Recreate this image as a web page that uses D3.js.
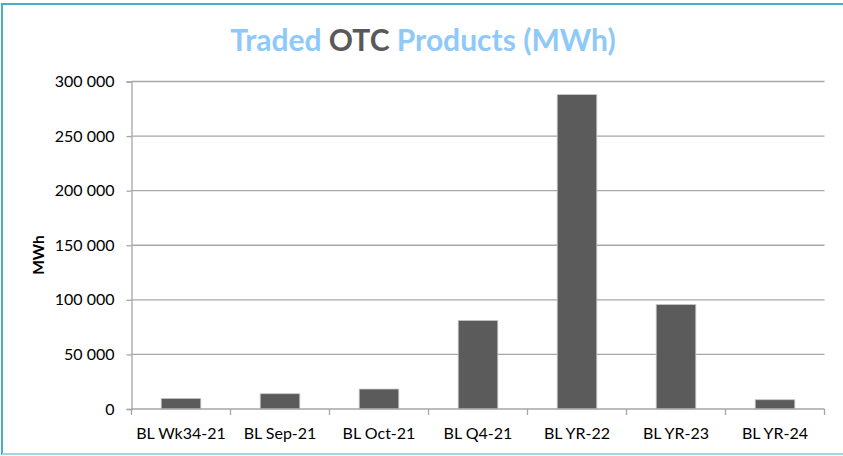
<!DOCTYPE html>
<html>
<head>
<meta charset="utf-8">
<script src="https://cdn.jsdelivr.net/npm/d3@7"></script>
<style>
  body { margin: 0; background: #fff; }
  svg { font-family: Lato, "Open Sans", sans-serif; }
</style>
</head>
<body>
<div id="chart"></div>
<script>
const categories = ['BL Wk34-21', 'BL Sep-21', 'BL Oct-21', 'BL Q4-21', 'BL YR-22', 'BL YR-23', 'BL YR-24']
const volumes = [9700, 14000, 18300, 81100, 288000, 95700, 8500]
const yTicks = [0, 50000, 100000, 150000, 200000, 250000, 300000]

const dimensions = { width: 843, height: 456 }
const margin = { top: 81.5, right: 18.5, bottom: 47, left: 131.5 }
const innerW = dimensions.width - margin.left - margin.right
const innerH = dimensions.height - margin.top - margin.bottom

const svg = d3.select('#chart')
  .append('svg')
  .attr('width', dimensions.width)
  .attr('height', dimensions.height)

// frame
svg.append('rect')
  .attr('x', 2).attr('y', 4)
  .attr('width', 860).attr('height', 450)
  .attr('fill', 'none')
  .attr('stroke', '#4bacc6')
  .attr('stroke-width', 2)
svg.append('line')
  .attr('x1', 2).attr('x2', 843).attr('y1', 454).attr('y2', 454)
  .attr('stroke', '#a5d5e0').attr('stroke-width', 2)

// title
const title = svg.append('text')
  .attr('x', 423).attr('y', 51)
  .attr('text-anchor', 'middle')
  .attr('font-size', 30)
  .attr('font-weight', 'bold')
title.append('tspan').attr('fill', '#8ec9f9').text('Traded ')
title.append('tspan').attr('fill', '#595959').text('OTC')
title.append('tspan').attr('fill', '#8ec9f9').text(' Products (MWh)')

const g = svg.append('g')
  .attr('transform', `translate(${margin.left}, ${margin.top})`)

const x = d3.scaleBand()
  .domain(categories)
  .range([0, innerW])
  .paddingInner(0.6)
  .paddingOuter(0.3)

const y = d3.scaleLinear()
  .domain([0, 300000])
  .range([innerH, 0])

const fmt = d => d3.format(',')(d).replace(/,/g, ' ')

// gridlines
g.append('g')
  .selectAll('line')
  .data(yTicks.slice(1))
  .join('line')
  .attr('x1', 0).attr('x2', innerW)
  .attr('y1', d => y(d)).attr('y2', d => y(d))
  .attr('stroke', '#a6a6a6')
  .attr('stroke-width', 1.3)

// y axis
const yAxis = g.append('g')
  .call(d3.axisLeft(y).tickValues(yTicks).tickSize(5).tickPadding(12).tickFormat(fmt))
yAxis.select('.domain').attr('stroke', '#a6a6a6').attr('stroke-width', 1.3)
yAxis.selectAll('.tick line').attr('stroke', '#a6a6a6').attr('stroke-width', 1.3)
yAxis.selectAll('text').attr('font-size', 16).attr('fill', '#000').attr('font-family', 'Lato, sans-serif')

// bars
g.append('g')
  .selectAll('rect')
  .data(volumes)
  .join('rect')
  .attr('x', (d, i) => x(categories[i]))
  .attr('y', d => y(d))
  .attr('width', x.bandwidth())
  .attr('height', d => innerH - y(d))
  .attr('fill', '#5a5b5a')
  .attr('stroke', '#c8c8c8')
  .attr('stroke-width', 0.8)

// x axis
const xAxis = g.append('g')
  .attr('transform', `translate(0, ${innerH})`)
xAxis.append('line')
  .attr('x1', 0).attr('x2', innerW)
  .attr('stroke', '#a6a6a6').attr('stroke-width', 1.3)
xAxis.selectAll('.sep')
  .data(d3.range(categories.length + 1))
  .join('line')
  .attr('class', 'sep')
  .attr('x1', i => i * innerW / categories.length)
  .attr('x2', i => i * innerW / categories.length)
  .attr('y1', 0).attr('y2', 6)
  .attr('stroke', '#a6a6a6').attr('stroke-width', 1.3)
xAxis.selectAll('.lab')
  .data(categories)
  .join('text')
  .attr('class', 'lab')
  .attr('x', d => x(d) + x.bandwidth() / 2)
  .attr('y', 30)
  .attr('text-anchor', 'middle')
  .attr('font-size', 16)
  .attr('fill', '#000')
  .text(d => d)

// y axis title
svg.append('text')
  .attr('transform', 'translate(44, 255) rotate(-90)')
  .attr('text-anchor', 'middle')
  .attr('font-size', 15.5)
  .attr('font-weight', 'bold')
  .text('MWh')
</script>
</body>
</html>
